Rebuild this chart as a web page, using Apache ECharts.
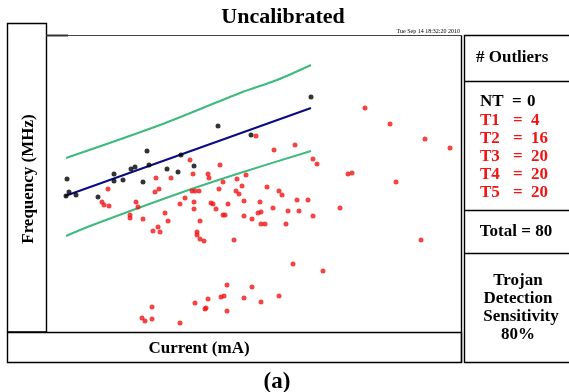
<!DOCTYPE html>
<html>
<head>
<meta charset="utf-8">
<script src="https://cdn.jsdelivr.net/npm/echarts@6/dist/echarts.min.js"></script>
<style>
html,body{margin:0;padding:0;background:#fff;}
#chart{width:569px;height:392px;}
</style>
</head>
<body>
<div id="chart"></div>
<script>
// ---- data (arbitrary units) ----
const titleText = 'Uncalibrated';
const dateText = 'Tue Sep 14 18:32:20 2010';
const xLabel = 'Current (mA)';
const yLabel = 'Frequency (MHz)';
const subLabel = '(a)';

const ntPoints = [
  [21,153],[20,136],[23,140],[30,137],[52,135],[68,158],[68,151],[77,152],[85,163],[89,165],
  [97,150],[101,181],[103,167],[121,163],[132,160],[135,177],[148,166],[172,206],[205,197],[265,235]
];
const trojanPoints = [
  [144,172],[174,167],[147,158],[162,158],[163,154],[110,154],[125,154],[191,153],[177,150],[62,143],
  [113,143],[109,140],[173,143],[146,141],[149,141],[153,141],[190,141],[193,138],[56,130],[58,127],
  [63,126],[90,130],[92,125],[139,134],[134,128],[148,130],[148,123],[165,129],[167,128],[170,123],
  [182,128],[119,119],[84,117],[84,114],[97,113],[177,117],[179,117],[122,111],[154,111],[112,105],
  [107,101],[114,100],[319,224],[344,208],[210,196],[379,193],[404,184],[228,182],[249,187],[267,173],
  [271,168],[200,157],[302,158],[306,159],[350,150],[196,146],[221,145],[233,141],[236,137],[198,131],
  [214,130],[251,132],[262,132],[227,124],[212,119],[215,120],[242,121],[253,121],[294,124],[198,116],
  [206,113],[267,116],[215,108],[219,108],[240,108],[151,100],[151,97],[154,93],[158,91],[188,92],
  [375,92],[247,68],[277,61],[181,47],[206,45],[175,35],[178,36],[162,33],[149,29],[198,34],
  [233,36],[215,30],[106,25],[159,23],[160,24],[181,21],[96,14],[99,11],[106,13],[134,9]
];
const fitLine = [[19,136],[265,224]];
const upperBound = [[20,174],[114,207],[194,239],[231,252],[265,267]];
const lowerBound = [[20,96],[44,106],[134,139],[194,159],[265,181]];

const outlierHeader = '# Outliers';
const outlierNames = ['NT','T1','T2','T3','T4','T5'];
const outlierCounts = [0,4,16,20,20,20];
const totalText = 'Total = 80';
const sensitivityLines = ['Trojan','Detection','Sensitivity','80%'];

// ---- chart ----
const chart = echarts.init(document.getElementById('chart'), null, {renderer:'canvas'});
const serif = '"Liberation Serif","DejaVu Serif",serif';
const RED = '#f01414';
const GREEN = '#3dba7d';
const NAVY = '#0a0a82';

const g = [];
function rect(x,y,w,h){ g.push({type:'rect',shape:{x:x,y:y,width:w,height:h},style:{fill:'none',stroke:'#000',lineWidth:1.4},z:10}); }
function line(x1,y1,x2,y2,c,w){ g.push({type:'line',shape:{x1:x1,y1:y1,x2:x2,y2:y2},style:{stroke:c||'#000',lineWidth:w||1.4},z:10}); }
function text(t,x,y,size,color,align,extra){
  const o = {type:'text',x:x,y:y,style:{text:t,fill:color||'#000',font:'bold '+size+'px '+serif,textAlign:align||'center',textVerticalAlign:'middle'},z:11};
  if(extra) Object.assign(o,extra);
  g.push(o);
}

// frames
rect(7.5,23.5,39,308.5);
line(46.5,35.5,461.5,35.5,'#444',1);
line(46,35.5,68,35.5,'#333',2);
line(461.5,35.5,461.5,362.5);
rect(7.5,332.5,454,30);
rect(464.5,35.5,110,327);
line(464.5,81.5,569,81.5);
line(464.5,210.5,569,210.5);
line(464.5,253.5,569,253.5);

// texts
text(titleText,283,17,22);
g.push({type:'text',x:460,y:31,style:{text:dateText,fill:'#000',font:'6px '+serif,textAlign:'right',textVerticalAlign:'middle'},z:11});
text(yLabel,29,179,17,'#000','center',{rotation:Math.PI/2});
text(xLabel,199,349,17);
text(subLabel,277,382,23);
text(outlierHeader,476,58,17,'#000','left');
outlierNames.forEach(function(n,i){
  const y = 102 + i*18.2;
  const c = i===0 ? '#000' : RED;
  text(n,480,y,17,c,'left');
  text('=',i===0?512:513,y,17,c,'left');
  text(String(outlierCounts[i]),i===0?527:531,y,17,c,'left');
});
text(totalText,516,232,17);
sensitivityLines.forEach(function(s,i){
  text(s,[518,518,521,518][i],281+i*18,17);
});

const option = {
  animation:false,
  backgroundColor:'#fff',
  grid:{left:46,right:108,top:35,bottom:60,show:false},
  xAxis:{type:'value',min:0,max:415,show:false},
  yAxis:{type:'value',min:0,max:297,show:false},
  series:[
    {name:'upper',type:'line',data:upperBound,smooth:0.3,symbol:'none',lineStyle:{color:GREEN,width:2},z:2,silent:true},
    {name:'lower',type:'line',data:lowerBound,smooth:0.3,symbol:'none',lineStyle:{color:GREEN,width:2},z:2,silent:true},
    {name:'fit',type:'line',data:fitLine,symbol:'none',lineStyle:{color:NAVY,width:2},z:2,silent:true},
    {name:'Trojan',type:'scatter',data:trojanPoints,symbolSize:5,itemStyle:{color:RED},z:5},
    {name:'NT',type:'scatter',data:ntPoints,symbolSize:5,itemStyle:{color:'#000'},z:6}
  ],
  graphic:{elements:g}
};
chart.setOption(option);
</script>
</body>
</html>
